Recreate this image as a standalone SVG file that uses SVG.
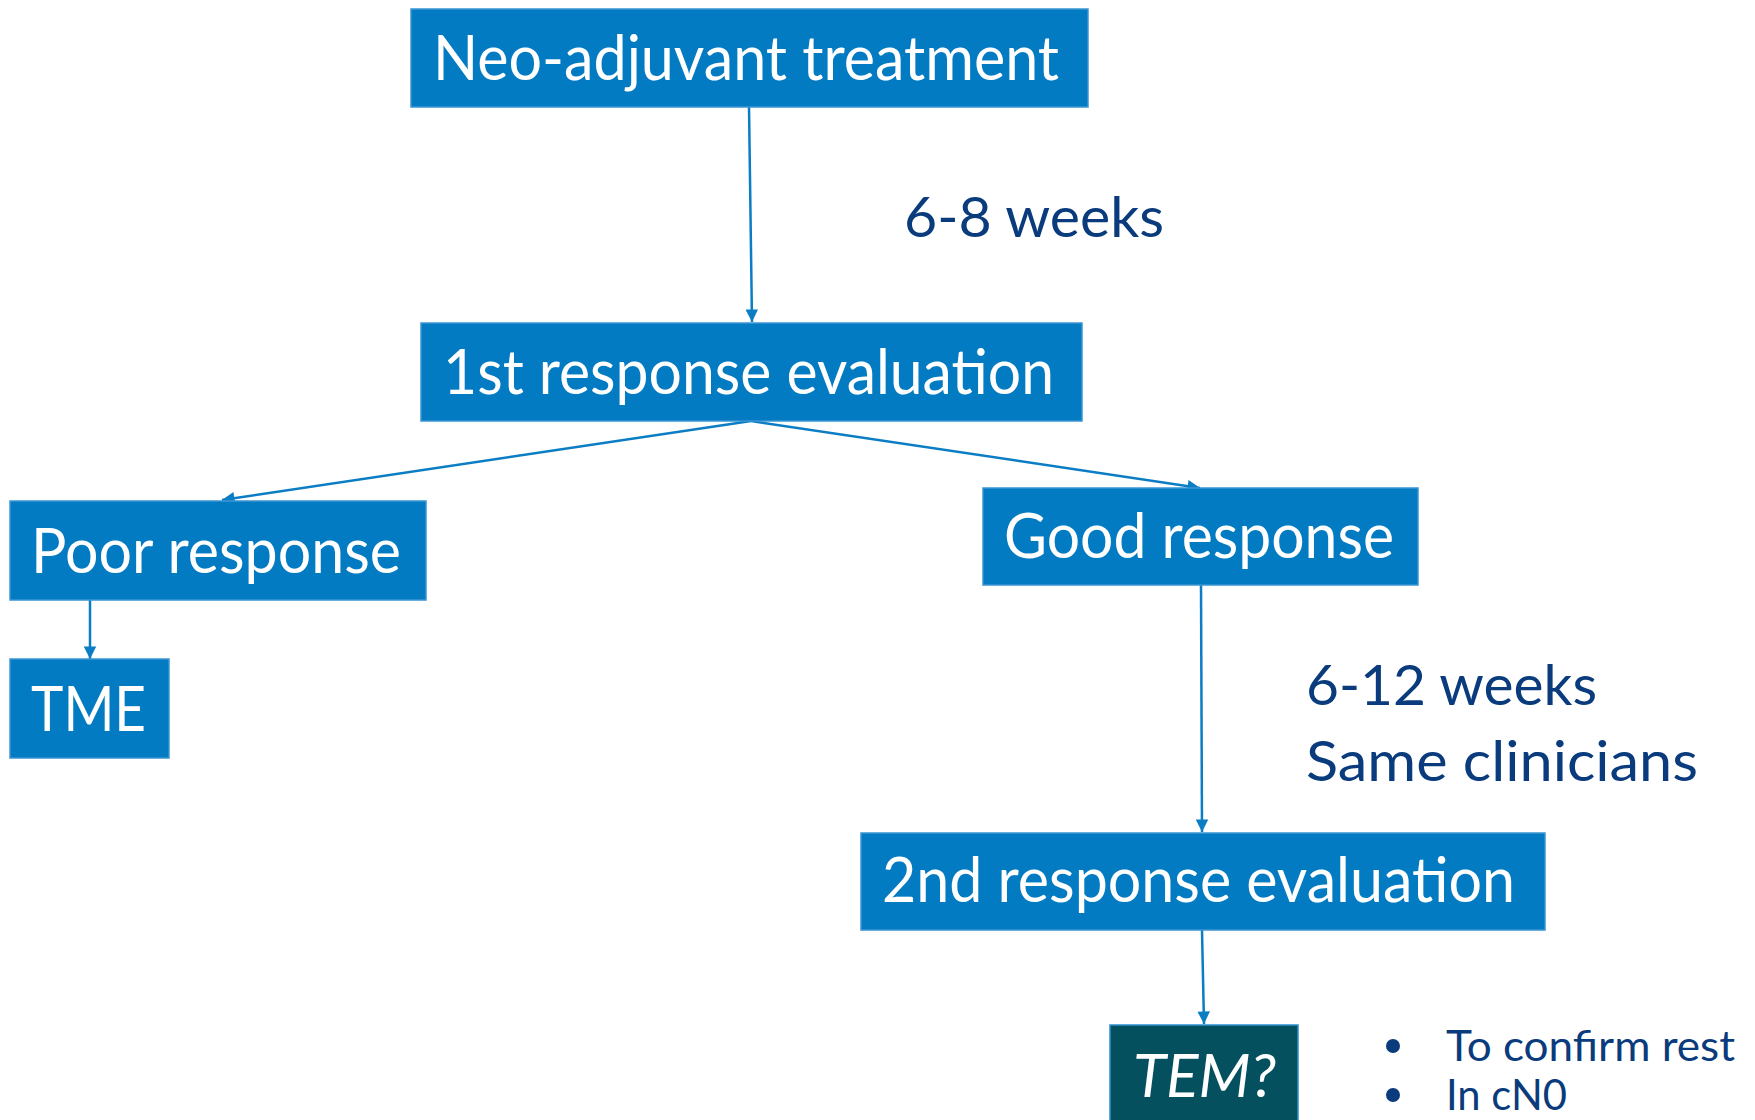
<svg xmlns="http://www.w3.org/2000/svg" width="1755" height="1120" viewBox="0 0 1755 1120">
<defs>
<style>
.box{fill:#037bc2;stroke:#3a95d2;stroke-width:1.5}
.tem{fill:#04505e;stroke:#2a8fd0;stroke-width:1.5}
.bt{font-family:Lato,"Open Sans",sans-serif;font-size:61px;fill:#ffffff}
.lbl{font-family:Lato,"Open Sans",sans-serif;font-size:57px;fill:#0a3b7c}
.bul{font-family:Lato,"Open Sans",sans-serif;font-size:42px;fill:#0a3b7c}
.con{stroke:#0b7dc4;stroke-width:2.5;fill:none;marker-end:url(#ah)}
</style>
<marker id="ah" viewBox="0 0 10 10" refX="10" refY="5" markerWidth="6" markerHeight="5" markerUnits="strokeWidth" orient="auto">
<path d="M0,0 L10,5 L0,10 z" fill="#0b7dc4"/>
</marker>
</defs>
<rect width="1755" height="1120" fill="#ffffff"/>
<g id="connectors">
<line class="con" x1="749" y1="107" x2="752" y2="322"/>
<line class="con" x1="751" y1="421" x2="222" y2="500"/>
<line class="con" x1="751" y1="421" x2="1200" y2="488"/>
<line class="con" x1="90" y1="600" x2="90" y2="659"/>
<line class="con" x1="1201" y1="585" x2="1202" y2="832"/>
<line class="con" x1="1202" y1="930" x2="1204" y2="1024"/>
</g>
<g id="neo">
<rect class="box" x="411" y="9" width="677" height="98"/>
<text class="bt" x="433" y="80" textLength="626" lengthAdjust="spacingAndGlyphs">Neo-adjuvant treatment</text>
</g>
<g id="lbl68">
<text class="lbl" x="904" y="237" textLength="260" lengthAdjust="spacingAndGlyphs">6-8 weeks</text>
</g>
<g id="first">
<rect class="box" x="421" y="323" width="661" height="98"/>
<text class="bt" x="443" y="394" textLength="611" lengthAdjust="spacingAndGlyphs">1st response evaluation</text>
</g>
<g id="poor">
<rect class="box" x="10" y="501" width="416" height="99"/>
<text class="bt" x="31" y="573" textLength="370" lengthAdjust="spacingAndGlyphs">Poor response</text>
</g>
<g id="tme">
<rect class="box" x="10" y="659" width="159" height="99"/>
<text class="bt" x="31" y="731" textLength="115" lengthAdjust="spacingAndGlyphs">TME</text>
</g>
<g id="good">
<rect class="box" x="983" y="488" width="435" height="97"/>
<text class="bt" x="1004" y="558" textLength="390" lengthAdjust="spacingAndGlyphs">Good response</text>
</g>
<g id="lbl612">
<text class="lbl" x="1306" y="705" textLength="291" lengthAdjust="spacingAndGlyphs">6-12 weeks</text>
<text class="lbl" x="1306" y="781" textLength="392" lengthAdjust="spacingAndGlyphs">Same clinicians</text>
</g>
<g id="second">
<rect class="box" x="861" y="833" width="684" height="97"/>
<text class="bt" x="882" y="902" textLength="633" lengthAdjust="spacingAndGlyphs">2nd response evaluation</text>
</g>
<g id="tem">
<rect class="tem" x="1110" y="1025" width="188" height="110"/>
<text class="bt" x="1133" y="1097" font-style="italic" textLength="143" lengthAdjust="spacingAndGlyphs">TEM?</text>
</g>
<g id="bullets">
<circle cx="1393" cy="1046" r="7" fill="#0a3b7c"/>
<text class="bul" x="1446" y="1061" textLength="289" lengthAdjust="spacingAndGlyphs">To confirm rest</text>
<circle cx="1393" cy="1095" r="7" fill="#0a3b7c"/>
<text class="bul" x="1446" y="1110" textLength="121" lengthAdjust="spacingAndGlyphs">In cN0</text>
</g>
</svg>
